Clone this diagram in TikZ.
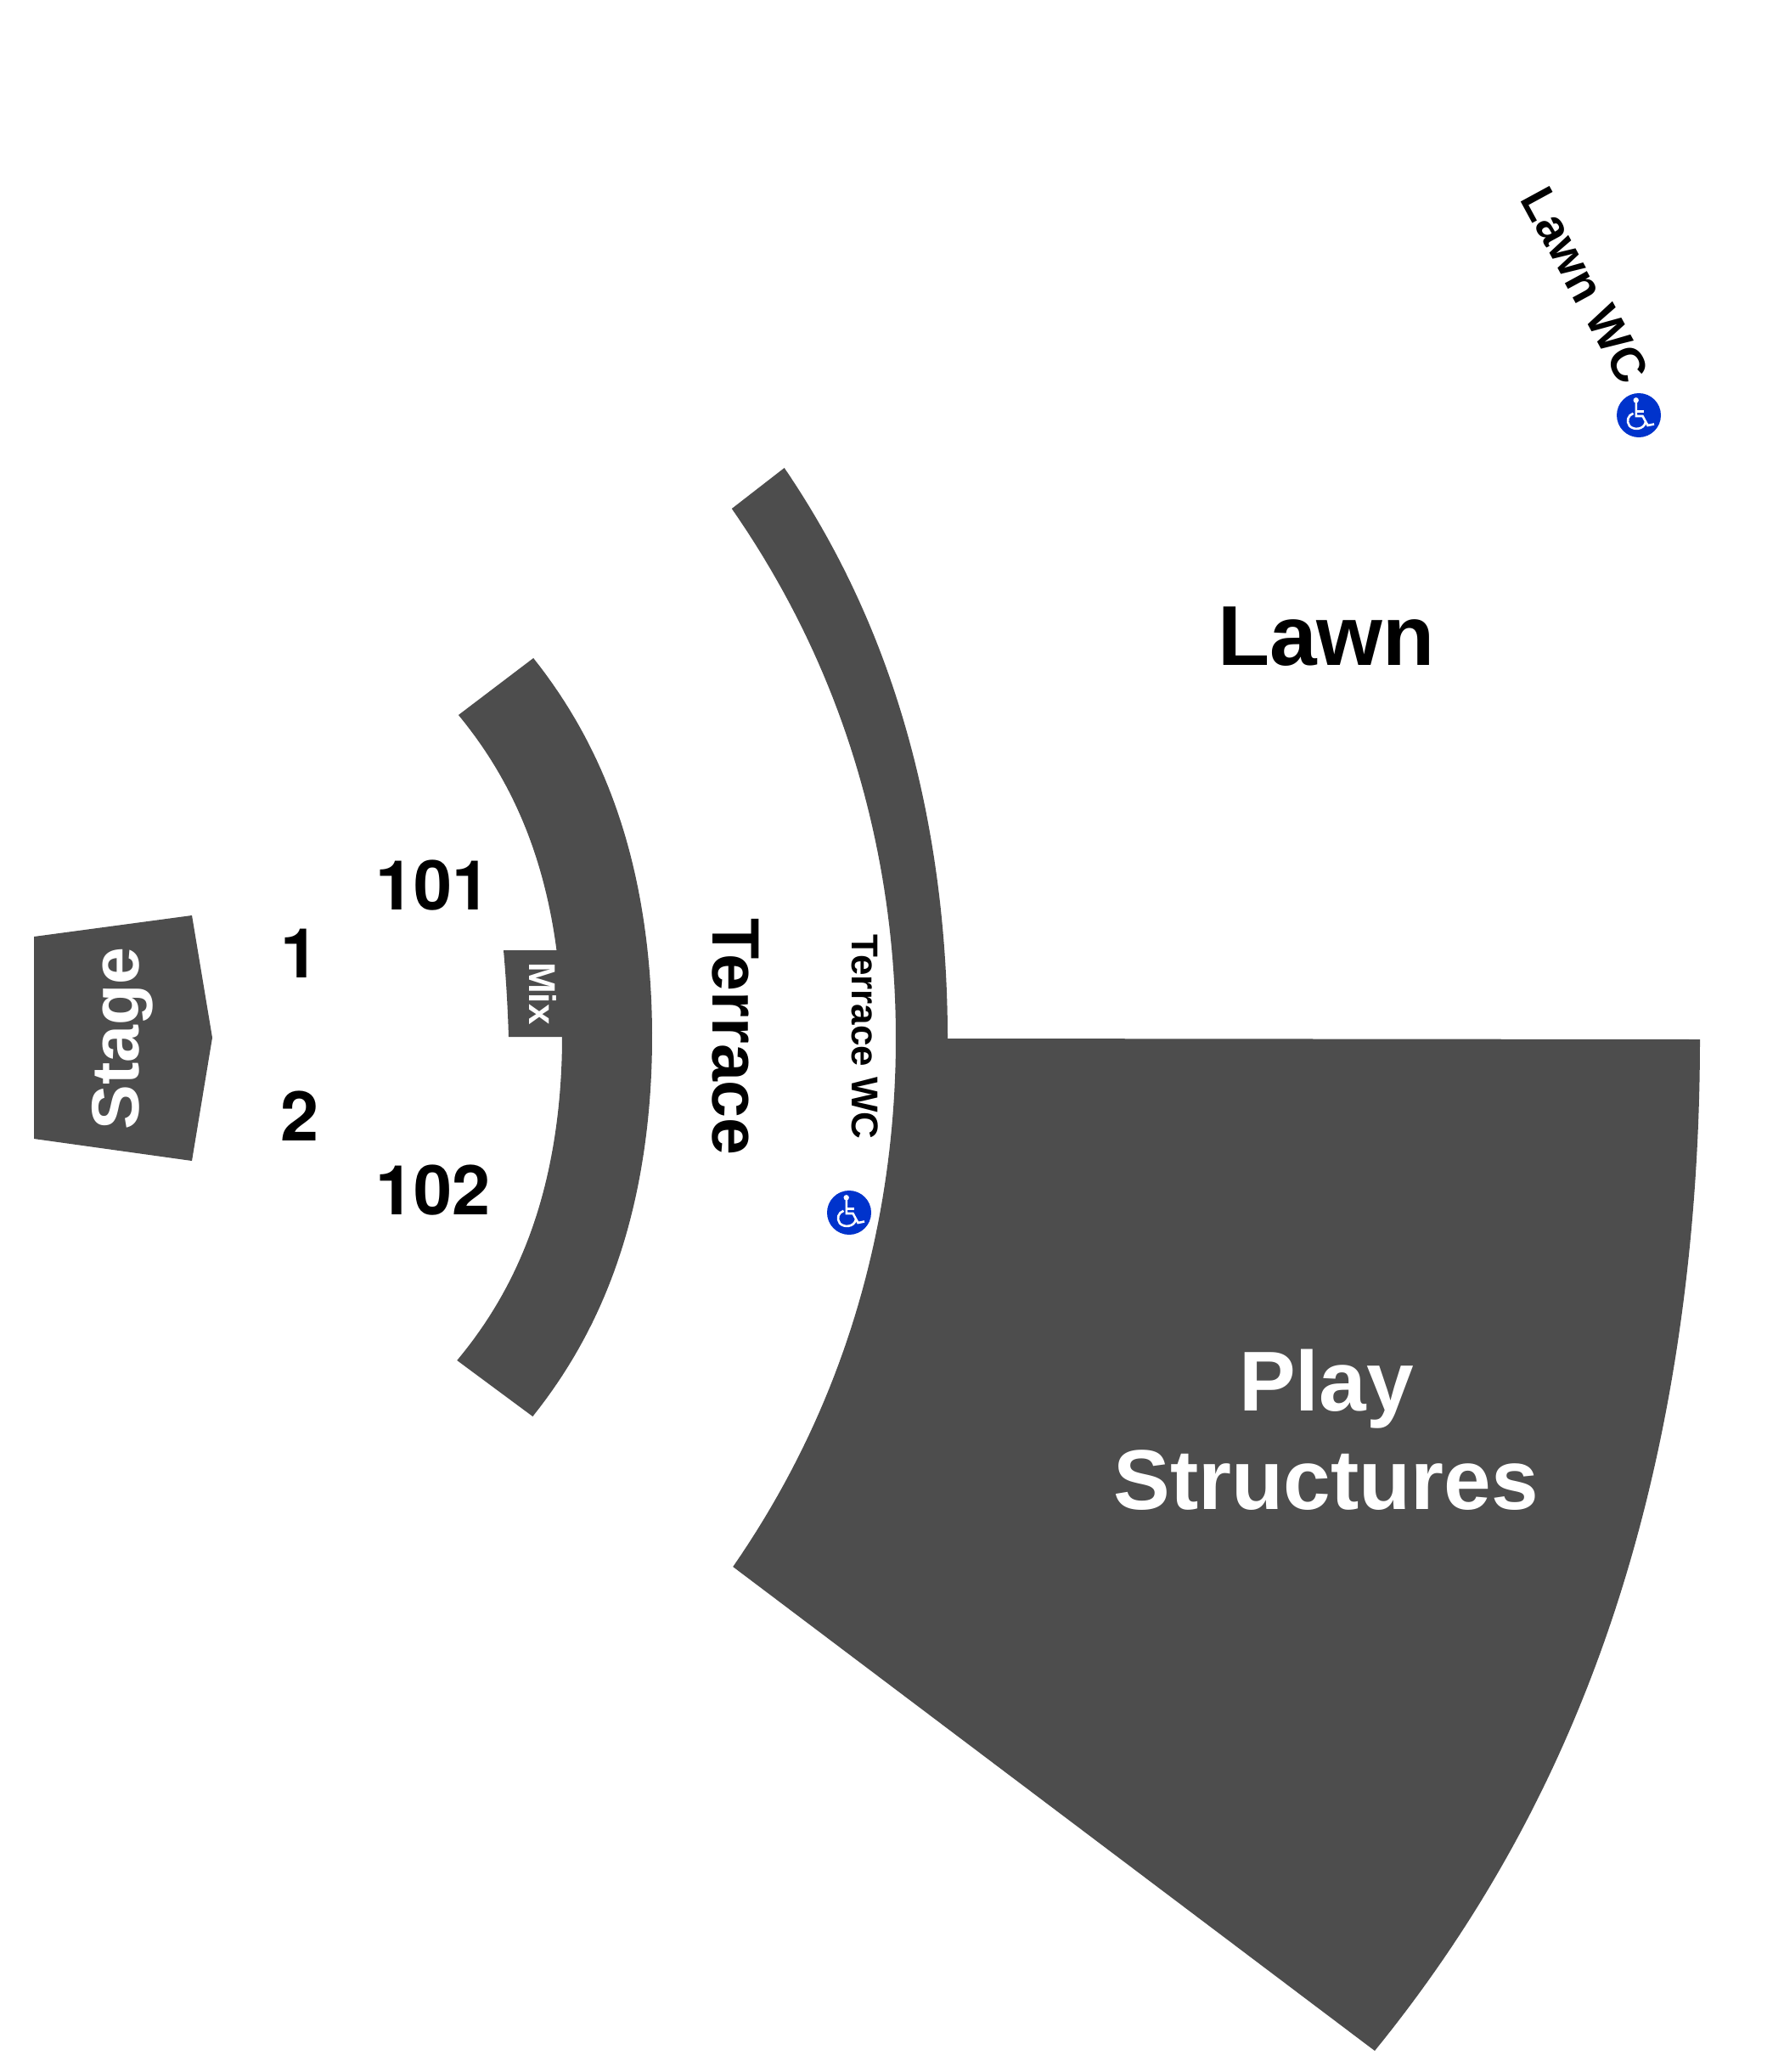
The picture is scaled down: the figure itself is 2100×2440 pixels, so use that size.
\documentclass[tikz,border=0pt]{standalone}
\usepackage{fontspec}
\setmainfont{Liberation Sans}
\newfontfamily\digitfont{TeX Gyre Heros}
\definecolor{venue}{HTML}{4D4D4D}
\definecolor{access}{HTML}{0033CC}
% edge of a curved block: x = apex - u^2 (A + B u^2), u = (y - y0)/100
\newcommand{\rimx}[4]{#1-((\yy-#4)/100)^2*(#2+#3*((\yy-#4)/100)^2)}
\tikzset{
  block/.style={fill=venue,draw=none},
  rim/.style 2 args={variable=\yy,domain=#1:#2,samples=90},
  darktext/.style={inner sep=0pt,outer sep=0pt,anchor=base,text=black,font=\bfseries\fontsize{#1}{#1}\selectfont},
  lighttext/.style={inner sep=0pt,outer sep=0pt,anchor=base,text=white,font=\bfseries\fontsize{#1}{#1}\selectfont},
  digittext/.style={inner sep=0pt,outer sep=0pt,anchor=base,text=black,font=\digitfont\bfseries\fontsize{#1}{#1}\selectfont},
  iconline/.style={draw=white,line width=2.6bp,fill=none},
  wheelicon/.pic={
    \fill[access] (0,0) circle[radius=26];
    \fill[white] (-3.3,-17.7) circle[radius=3.2];
    \draw[iconline] (-3.2,-16) -- (-3.2,1) -- (4.5,1) -- (10.5,12) -- (18,10.5);
    \draw[iconline] (-3.2,-4.5) -- (6,-4.5);
    \draw[iconline] (-6.5,-2.2) .. controls (-13,0) and (-15,7) .. (-11,12.5)
        .. controls (-6,18) and (6,17) .. (8,8);
  }
}
\begin{document}
\begin{tikzpicture}[x=1bp,y=-1bp]
\useasboundingbox (0,0) rectangle (2100,2440);
\fill[white] (0,0) rectangle (2100,2440);

\coordinate (st1) at (40,1103);
\coordinate (st2) at (226,1078);
\coordinate (st3) at (250,1222);
\coordinate (st4) at (226,1367);
\coordinate (st5) at (40,1341);
\fill[block] (st1) -- (st2) -- (st3) -- (st4) -- (st5) -- cycle;

\fill[block] plot[rim={775}{1668}] ({\rimx{768}{5.14}{0.095}{1221}},{\yy})
  -- plot[rim={1602}{842}] ({\rimx{662}{6.1}{0.167}{1221}},{\yy}) -- cycle;

\coordinate (mx1) at (593,1119);
\coordinate (mx2) at (668,1119);
\coordinate (mx3) at (668,1221);
\coordinate (mx4) at (599,1221);
\fill[block] (mx1) -- (mx2) -- (mx3) -- (mx4) .. controls (598,1187) and (596,1153) .. (mx1) -- cycle;

\coordinate (pl1) at (2002,1224);
\coordinate (pl2) at (1116,1223);
\fill[block] plot[rim={551}{1223}] ({\rimx{1116}{3.45}{0.0179}{1223}},{\yy}) -- (pl2) -- (pl1)
  -- plot[rim={1224}{2415}] ({\rimx{2002}{1.98}{0.00504}{1223}},{\yy})
  -- plot[rim={1845}{599}] ({\rimx{1055}{4.355}{0.01556}{1223}},{\yy}) -- cycle;

\node[lighttext=79bp,rotate=90] (stage) at (163,1223) {Stage};
\node[lighttext=100bp] (play) at (1562,1661) {Play};
\node[lighttext=100bp] (structures) at (1562,1777) {Structures};
\node[lighttext=44bp,rotate=-90] (mix) at (623,1170) {Mix};

\node[digittext=81bp] (one) at (353.5,1151) {1};
\node[digittext=81bp] (two) at (353.5,1343) {2};
\node[digittext=81bp] (s101) at (510,1071) {101};
\node[digittext=81bp] (s102) at (510,1430) {102};
\node[darktext=100bp] (lawn) at (1562,783) {Lawn};
\node[darktext=79bp,rotate=-90] (terrace) at (839,1221) {Terrace};
\node[darktext=44bp,rotate=-90] (terracewc) at (1003,1221) {Terrace WC};
\node[darktext=56bp,rotate=-61.5] (lawnwc) at (1850,345) {Lawn WC};

\pic at (1930,489) {wheelicon};
\pic at (1000,1428) {wheelicon};
\end{tikzpicture}
\end{document}
